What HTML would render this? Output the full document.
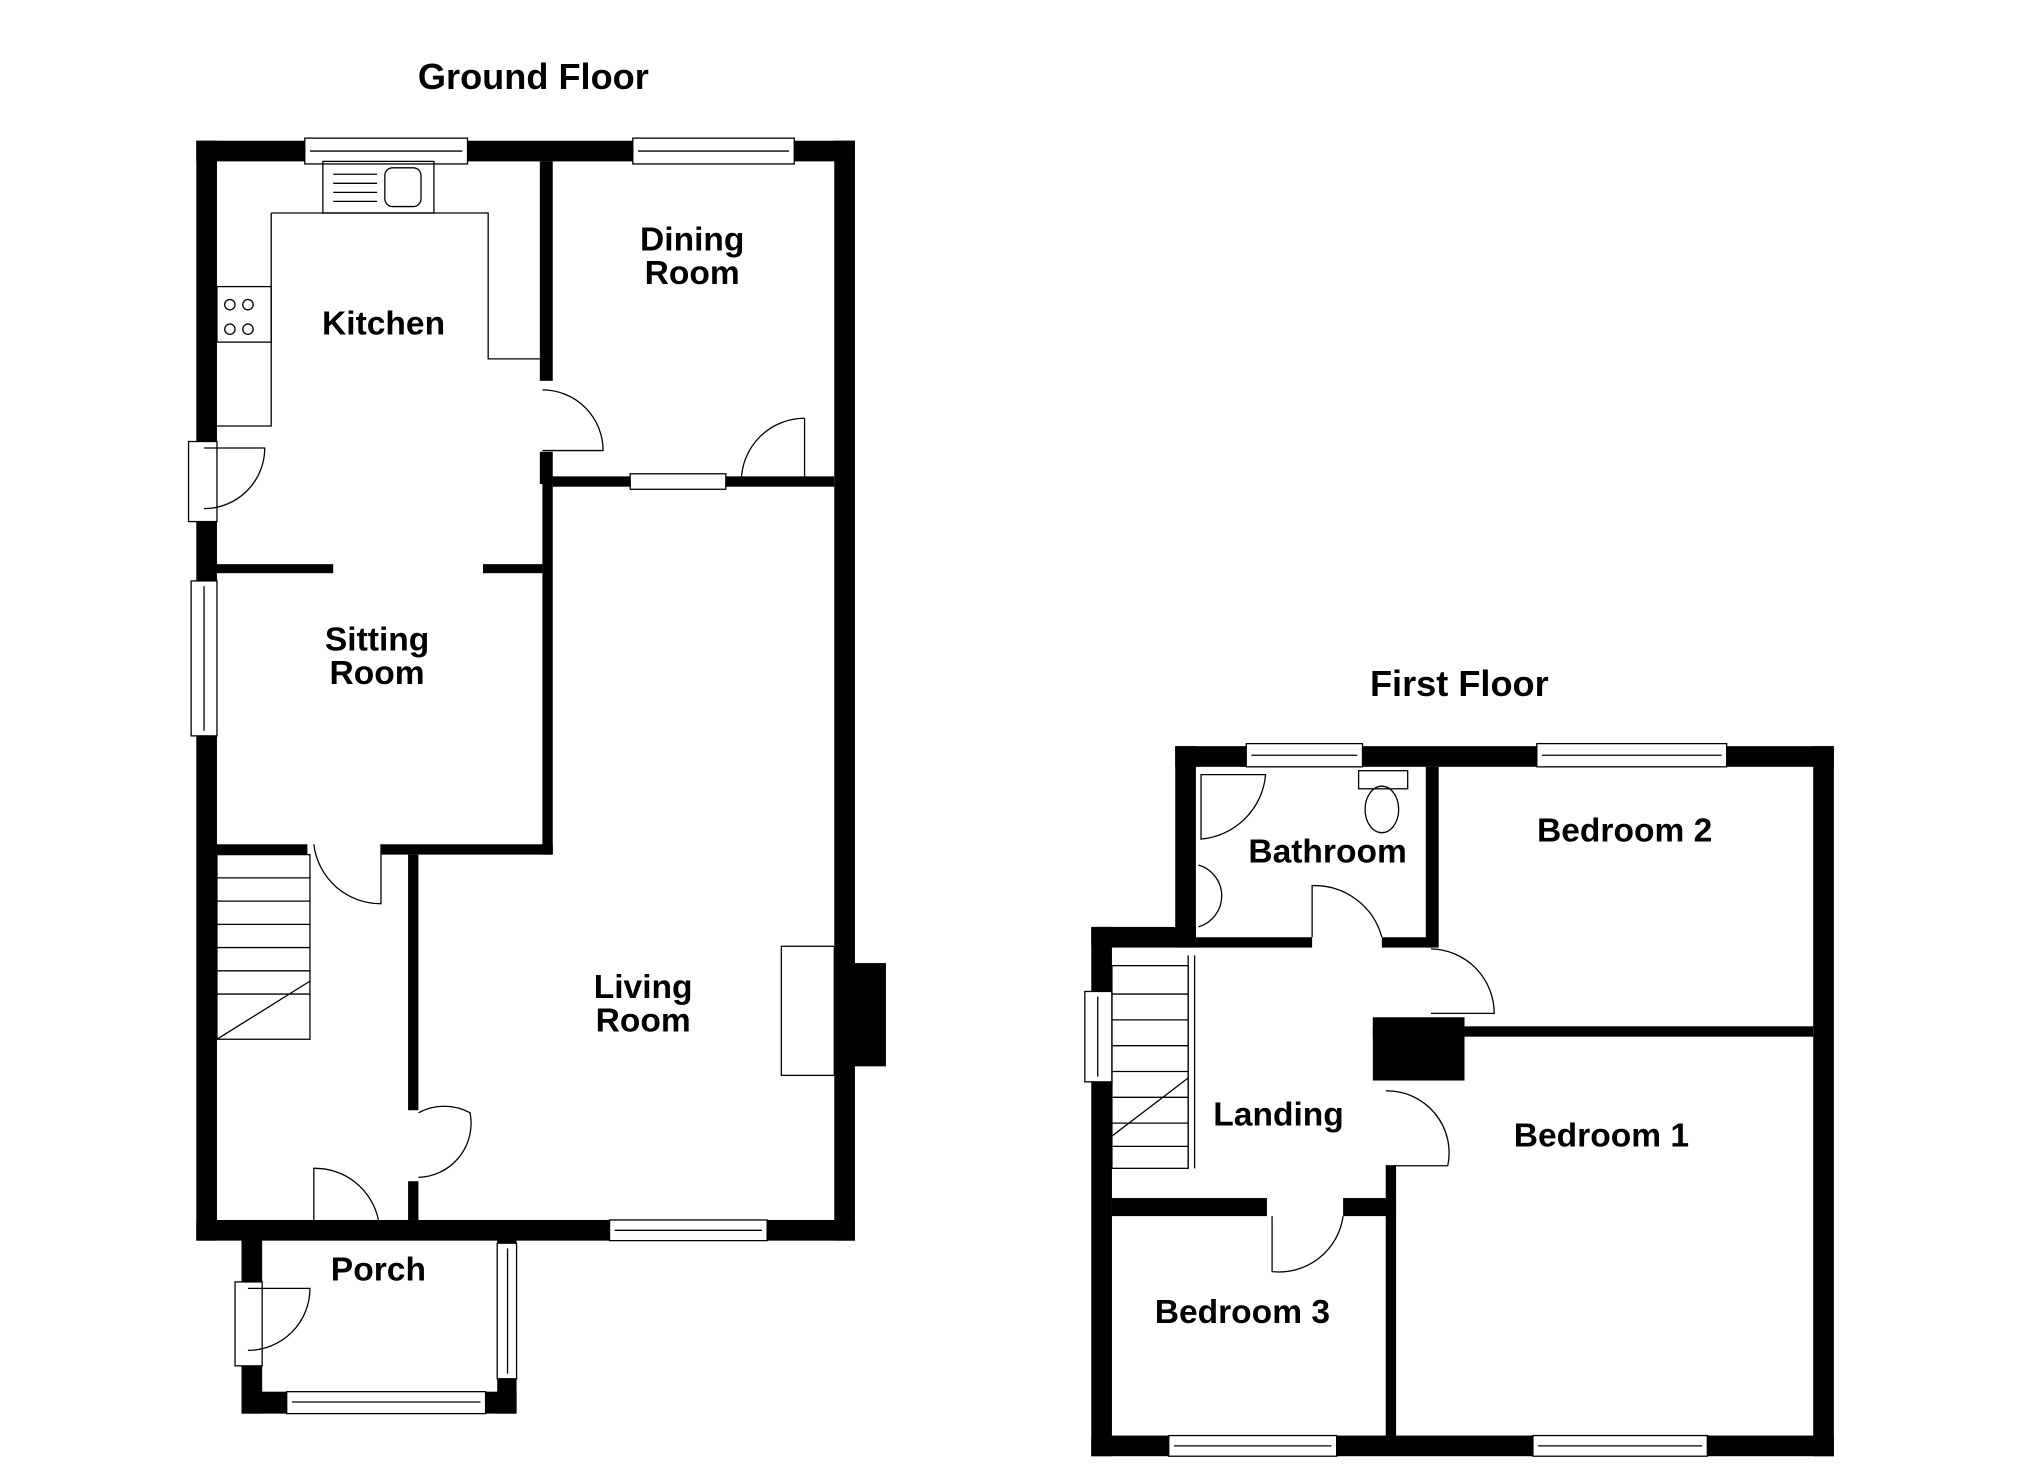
<!DOCTYPE html>
<html><head><meta charset="utf-8"><style>
html,body{margin:0;padding:0;background:#fff;width:2025px;height:1473px;overflow:hidden}
svg{display:block}
text{font-family:"Liberation Sans",Arial,sans-serif;font-weight:bold;font-size:26px;fill:#000;text-anchor:middle}
</style></head><body>
<svg width="2025" height="1473" viewBox="0 0 1568 1141" preserveAspectRatio="none" xmlns="http://www.w3.org/2000/svg">
<g fill="#000">
<rect x="152" y="109" width="510" height="16"/>
<rect x="152" y="109" width="16" height="852"/>
<rect x="646" y="109" width="16" height="852"/>
<rect x="646" y="746" width="40" height="80"/>
<rect x="152" y="945" width="510" height="16"/>
<rect x="418" y="125" width="10" height="170"/>
<rect x="418" y="350" width="10" height="25"/>
<rect x="428" y="369" width="218" height="8"/>
<rect x="420" y="369" width="8" height="293"/>
<rect x="168" y="437" width="90" height="7"/>
<rect x="374" y="437" width="46" height="7"/>
<rect x="295" y="654" width="133" height="8"/>
<rect x="168" y="654" width="70" height="8"/>
<rect x="316" y="662" width="8" height="198"/>
<rect x="316" y="915" width="8" height="30"/>
<rect x="187" y="955" width="16" height="140"/>
<rect x="187" y="1078" width="213" height="17"/>
<rect x="385" y="955" width="15" height="140"/>
<rect x="910" y="578" width="510" height="16"/>
<rect x="1404" y="578" width="16" height="550"/>
<rect x="845" y="1112" width="575" height="16"/>
<rect x="845" y="718" width="16" height="410"/>
<rect x="910" y="578" width="16" height="156"/>
<rect x="845" y="718" width="81" height="16"/>
<rect x="1104" y="594" width="10" height="140"/>
<rect x="926" y="726" width="90" height="8"/>
<rect x="1070" y="726" width="40" height="8"/>
<rect x="1063" y="795" width="341" height="8"/>
<rect x="1063" y="788" width="71" height="49"/>
<rect x="1073" y="903" width="8" height="209"/>
<rect x="861" y="928" width="120" height="14"/>
<rect x="1040" y="928" width="41" height="14"/>
</g>
<g fill="#fff" stroke="#000" stroke-width="1">
<rect x="236" y="107" width="126" height="20"/><line x1="240" y1="117" x2="358" y2="117"/>
<rect x="490" y="107" width="125" height="20"/><line x1="494" y1="117" x2="611" y2="117"/>
<rect x="488" y="367" width="74" height="12"/>
<rect x="148" y="450" width="20" height="120"/><line x1="158" y1="454" x2="158" y2="566"/>
<rect x="146" y="342" width="22" height="62"/>
<rect x="472" y="945" width="122" height="16"/><line x1="476" y1="953" x2="590" y2="953"/>
<rect x="385" y="963" width="15" height="105"/><line x1="393" y1="967" x2="393" y2="1064"/>
<rect x="222" y="1078" width="154" height="17"/><line x1="226" y1="1086" x2="372" y2="1086"/>
<rect x="182" y="993" width="21" height="65"/>
<rect x="965" y="576" width="90" height="18"/><line x1="969" y1="585" x2="1051" y2="585"/>
<rect x="1190" y="576" width="147" height="18"/><line x1="1194" y1="585" x2="1333" y2="585"/>
<rect x="840" y="768" width="21" height="70"/><line x1="850" y1="772" x2="850" y2="834"/>
<rect x="905" y="1112" width="130" height="16"/><line x1="909" y1="1120" x2="1031" y2="1120"/>
<rect x="1187" y="1112" width="135" height="16"/><line x1="1191" y1="1120" x2="1318" y2="1120"/>
</g>
<g fill="none" stroke="#000" stroke-width="1">
<path d="M420 302 A47 47 0 0 1 467 349 L420 349"/>
<path d="M623 324 A49 49 0 0 0 574 373 M623 324 V373"/>
<path d="M158 347 H205 A47 47 0 0 1 158 394"/>
<path d="M295 654 V700 A52 52 0 0 1 243 654"/>
<path d="M324 862 A42 42 0 0 1 364 862 A42 42 0 0 1 324 912"/>
<path d="M243 945 V905 A50 50 0 0 1 293 945"/>
<path d="M192 998 H240 A48 48 0 0 1 192 1046"/>
<rect x="250" y="125" width="86" height="40"/>
<path d="M210 165 H378 V278 H418 M210 165 V330 H168"/>
<rect x="168" y="222" width="42" height="43"/>
<circle cx="178" cy="236" r="4"/><circle cx="192" cy="236" r="4"/><circle cx="178" cy="255" r="4"/><circle cx="192" cy="255" r="4"/>
<rect x="298" y="130" width="28" height="30" rx="6"/>
<path d="M258 135 H292 M258 142 H292 M258 149 H292 M258 156 H292"/>
<rect x="168" y="662" width="72" height="143"/>
<path d="M168 680 H240 M168 698 H240 M168 716 H240 M168 734 H240 M168 752 H240 M168 770 H240 M168 805 L240 760"/>
<rect x="605" y="733" width="41" height="100"/>
<path d="M1016 726 V686 A54 54 0 0 1 1070 726"/>
<path d="M1108 735 A50 50 0 0 1 1157 785 H1108"/>
<path d="M1073 845 A48 48 0 0 1 1121 903 H1073"/>
<path d="M985 942 V985 A50 50 0 0 0 1040 942"/>
<path d="M930 600 H980 A55 55 0 0 1 930 650 Z"/>
<rect x="1052" y="597" width="38" height="14"/>
<ellipse cx="1070" cy="627" rx="13" ry="18"/>
<path d="M928 670 A25 25 0 0 1 928 718"/>
<rect x="861" y="748" width="59" height="157"/>
<path d="M861 770 H920 M861 790 H920 M861 810 H920 M861 830 H920 M861 850 H920 M861 870 H920 M861 888 H920 M861 880 L920 835 M920 740 V905 M925 740 V905"/>
</g>
<text x="413" y="69" style="font-size:28px">Ground Floor</text>
<text x="1130" y="539" style="font-size:28px">First Floor</text>
<text x="297" y="259">Kitchen</text>
<text x="536" y="194">Dining</text><text x="536" y="220">Room</text>
<text x="292" y="504">Sitting</text><text x="292" y="530">Room</text>
<text x="498" y="773">Living</text><text x="498" y="799">Room</text>
<text x="293" y="992">Porch</text>
<text x="1028" y="668">Bathroom</text>
<text x="1258" y="652">Bedroom 2</text>
<text x="990" y="872">Landing</text>
<text x="1240" y="888">Bedroom 1</text>
<text x="962" y="1025">Bedroom 3</text>
</svg>
</body></html>
